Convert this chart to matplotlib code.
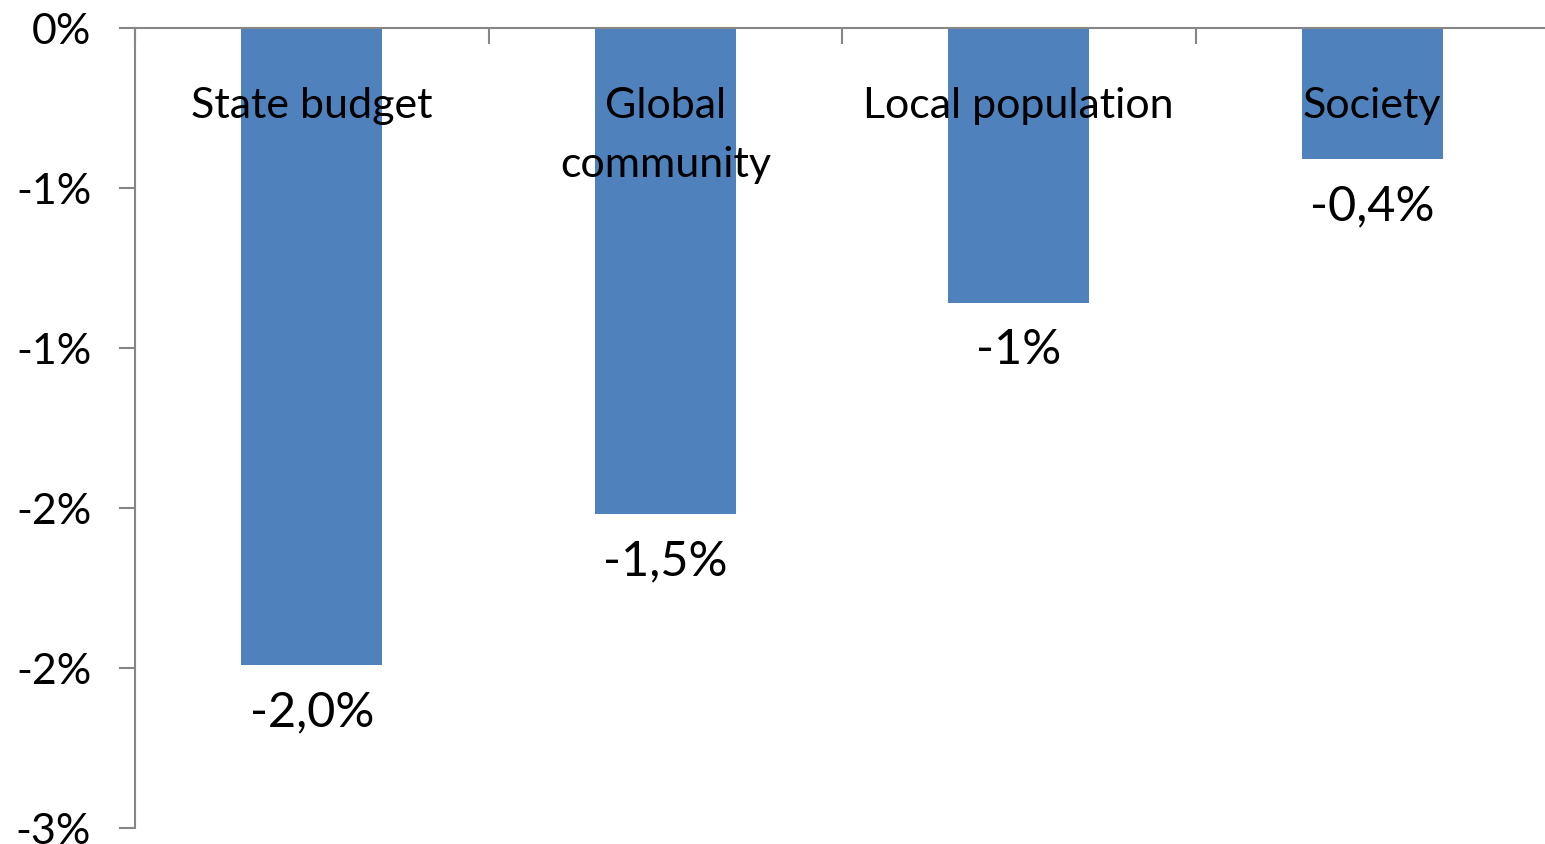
import math
import matplotlib
matplotlib.use('Agg')
import matplotlib.pyplot as plt

categories = ['State budget', 'Global\ncommunity', 'Local population', 'Society']
values = [-1.99, -1.52, -0.86, -0.41]   # per cent
decimals = [1, 1, 0, 1]                 # digits shown in each value label
yticks = [0, -0.5, -1.0, -1.5, -2.0, -2.5]

bar_color = '#4F81BD'
axis_color = '#868686'
font = ['Lato', 'DejaVu Sans']
fs = 31
fs_val = 35


def round_away(v, nd):
    # round half away from zero, like spreadsheet number formats
    m = 10 ** nd
    r = math.floor(abs(v) * m + 0.5) / m
    return math.copysign(r, v) if r != 0 else 0.0


def pct(v, nd):
    return f"{round_away(v, nd):.{nd}f}%".replace('.', ',')


fig = plt.figure(figsize=(15.45, 8.44), dpi=100)
ax = fig.add_axes([135 / 1545, 16 / 844, 1414 / 1545, 800 / 844])

x = list(range(len(categories)))
ax.bar(x, values, width=0.4, color=bar_color, zorder=2)

ax.set_xlim(-0.5, len(categories) - 0.5)
ax.set_ylim(-2.5, 0)

# horizontal axis sits at zero, on top
for s in ['right', 'bottom']:
    ax.spines[s].set_visible(False)
for s in ['left', 'top']:
    ax.spines[s].set_color(axis_color)
    ax.spines[s].set_linewidth(1.5)

ax.xaxis.tick_top()
ax.set_xticks([i - 0.5 for i in range(len(categories) + 1)])
ax.set_xticklabels([])
ax.tick_params(axis='x', direction='in', length=11.5, width=1.5, color=axis_color)

ax.set_yticks(yticks)
ax.set_yticklabels([pct(v, 0) for v in yticks], fontsize=fs, family=font)
ax.tick_params(axis='y', direction='out', length=11.5, width=1.5,
               color=axis_color, pad=20)

for xi, name, v, nd in zip(x, categories, values, decimals):
    ypos = -0.337 if '\n' in name else -0.2425
    ax.text(xi, ypos, name, ha='center', va='center',
            fontsize=fs, family=font, linespacing=1.68, zorder=3)
    ax.annotate(pct(v, nd), (xi, v), xytext=(0, -34), textcoords='offset points',
                ha='center', va='center', fontsize=fs_val, family=font, zorder=3)

fig.savefig('out.png', dpi=100)
